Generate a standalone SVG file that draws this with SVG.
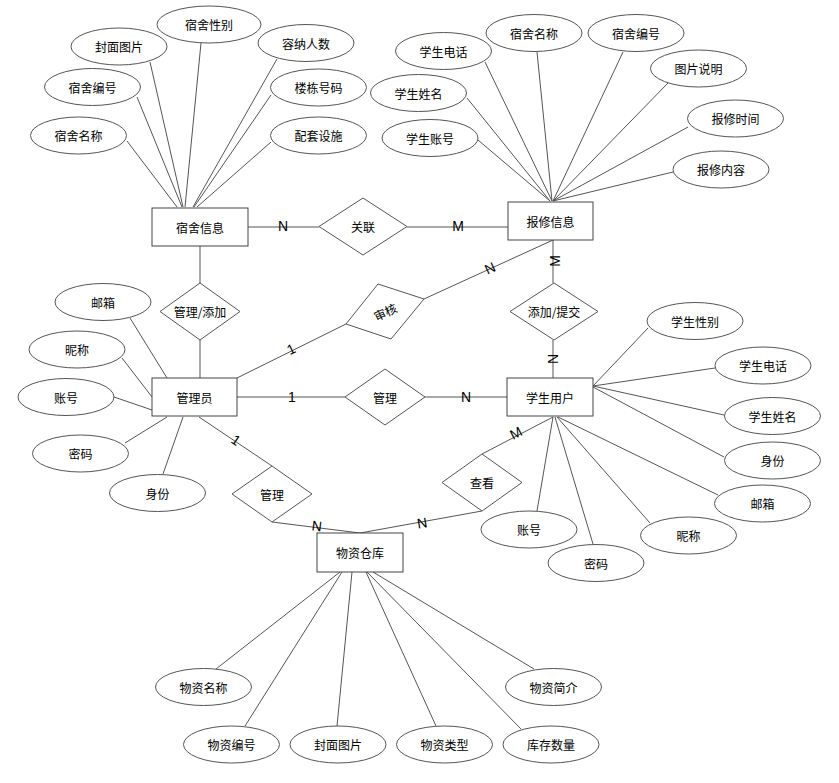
<svg xmlns="http://www.w3.org/2000/svg" width="839" height="783" viewBox="0 0 839 783">
<style>
.ent{fill:#fff;stroke:#444;stroke-width:1}
.rel{fill:#fff;stroke:#555;stroke-width:1}
.att{fill:#fff;stroke:#555;stroke-width:1}
.t{font-family:"Noto Sans CJK SC","Liberation Sans",sans-serif;font-size:12px;fill:#000;text-anchor:middle;dominant-baseline:central}
.c{stroke:#555;stroke-width:1;fill:none}
.lb{font-family:"Liberation Sans",Arial,sans-serif;font-size:14px;fill:#000;text-anchor:middle;dominant-baseline:central}
</style>
<rect width="839" height="783" fill="#fff"/>
<g id="connectors">
<!-- dorm attributes -->
<line class="c" x1="127" y1="141" x2="177" y2="207"/>
<line class="c" x1="137" y1="97" x2="182" y2="207"/>
<line class="c" x1="150" y1="62" x2="183" y2="207"/>
<line class="c" x1="201" y1="43" x2="185" y2="207"/>
<line class="c" x1="277" y1="59" x2="193" y2="207"/>
<line class="c" x1="271" y1="95" x2="194" y2="207"/>
<line class="c" x1="271" y1="142" x2="197" y2="207"/>
<!-- repair attributes -->
<line class="c" x1="485" y1="62" x2="552" y2="201"/>
<line class="c" x1="537" y1="52" x2="552" y2="201"/>
<line class="c" x1="623" y1="52" x2="553" y2="201"/>
<line class="c" x1="668" y1="83" x2="553" y2="201"/>
<line class="c" x1="467" y1="98" x2="550" y2="201"/>
<line class="c" x1="688" y1="127" x2="553" y2="201"/>
<line class="c" x1="478" y1="140" x2="550" y2="201"/>
<line class="c" x1="673" y1="172" x2="553" y2="201"/>
<!-- admin attributes -->
<line class="c" x1="130" y1="318" x2="167" y2="378"/>
<line class="c" x1="122" y1="358" x2="152" y2="397"/>
<line class="c" x1="114" y1="397" x2="152" y2="410"/>
<line class="c" x1="125" y1="443" x2="167" y2="417"/>
<line class="c" x1="163" y1="474" x2="183" y2="417"/>
<!-- student attributes -->
<line class="c" x1="648" y1="328" x2="593" y2="386"/>
<line class="c" x1="715" y1="368" x2="593" y2="386"/>
<line class="c" x1="724" y1="415" x2="593" y2="386"/>
<line class="c" x1="724" y1="457" x2="593" y2="387"/>
<line class="c" x1="718" y1="495" x2="558" y2="417"/>
<line class="c" x1="650" y1="523" x2="557" y2="417"/>
<line class="c" x1="593" y1="544" x2="555" y2="417"/>
<line class="c" x1="537" y1="511" x2="553" y2="417"/>
<!-- store attributes -->
<line class="c" x1="216" y1="669" x2="340" y2="572"/>
<line class="c" x1="245" y1="726" x2="342" y2="572"/>
<line class="c" x1="337" y1="726" x2="352" y2="572"/>
<line class="c" x1="436" y1="726" x2="366" y2="572"/>
<line class="c" x1="521" y1="729" x2="367" y2="572"/>
<line class="c" x1="534" y1="669" x2="373" y2="572"/>
<!-- relationships -->
<line class="c" x1="248" y1="227" x2="319" y2="227"/>
<line class="c" x1="407" y1="227" x2="508" y2="227"/>
<line class="c" x1="200" y1="246" x2="200" y2="283"/>
<line class="c" x1="200" y1="340" x2="200" y2="378"/>
<line class="c" x1="237" y1="378" x2="346" y2="324"/>
<line class="c" x1="424" y1="299" x2="553" y2="240"/>
<line class="c" x1="237" y1="397" x2="345" y2="397"/>
<line class="c" x1="425" y1="397" x2="507" y2="397"/>
<line class="c" x1="553" y1="240" x2="553" y2="283"/>
<line class="c" x1="553" y1="340" x2="553" y2="378"/>
<line class="c" x1="199" y1="417" x2="272" y2="466"/>
<line class="c" x1="272" y1="522" x2="360" y2="533"/>
<line class="c" x1="553" y1="417" x2="482" y2="454"/>
<line class="c" x1="482" y1="511" x2="360" y2="533"/>
<!-- cardinality labels -->
<text class="lb" x="283" y="226">N</text>
<text class="lb" x="458" y="226">M</text>
<text class="lb" transform="translate(291,349) rotate(-26)">1</text>
<text class="lb" transform="translate(490,268) rotate(-25)">N</text>
<text class="lb" x="292" y="397">1</text>
<text class="lb" x="466" y="397">N</text>
<text class="lb" transform="translate(555,261) rotate(-90)">M</text>
<text class="lb" transform="translate(553,359) rotate(-90)">N</text>
<text class="lb" transform="translate(236,440) rotate(34)">1</text>
<text class="lb" transform="translate(317,526) rotate(7)">N</text>
<text class="lb" transform="translate(422,523) rotate(-10)">N</text>
<text class="lb" transform="translate(516,433) rotate(-27)">M</text>
</g>
<g id="dorm"><rect class="ent" x="152" y="208" width="96" height="38"/><text class="t" x="200" y="227">宿舍信息</text></g>
<g id="repair"><rect class="ent" x="508" y="202" width="85" height="38"/><text class="t" x="550.5" y="221">报修信息</text></g>
<g id="admin"><rect class="ent" x="152" y="378" width="85" height="38"/><text class="t" x="194.5" y="397">管理员</text></g>
<g id="student"><rect class="ent" x="507" y="378" width="86" height="38"/><text class="t" x="550" y="397">学生用户</text></g>
<g id="store"><rect class="ent" x="317" y="533" width="86" height="39"/><text class="t" x="360" y="552.5">物资仓库</text></g>
<g id="rel_link"><polygon class="rel" points="319,226.5 363,198 407,226.5 363,255"/><text class="t" x="363" y="226.5">关联</text></g>
<g id="rel_manage_add"><polygon class="rel" points="160,311.5 200,283 240,311.5 200,340"/><text class="t" x="200" y="311.5">管理/添加</text></g>
<g id="rel_audit"><polygon class="rel" points="346,324 378,284 424,299 391,339"/><text class="t" transform="translate(385,311.5) rotate(-25)">审核</text></g>
<g id="rel_add_submit"><polygon class="rel" points="510,311.5 554,283 598,311.5 554,340"/><text class="t" x="554" y="311.5">添加/提交</text></g>
<g id="rel_manage1"><polygon class="rel" points="345,397 385,369 425,397 385,425"/><text class="t" x="385" y="397">管理</text></g>
<g id="rel_manage2"><polygon class="rel" points="232,494 272,466 312,494 272,522"/><text class="t" x="272" y="494">管理</text></g>
<g id="rel_view"><polygon class="rel" points="442,482.5 482,454 522,482.5 482,511"/><text class="t" x="482" y="482.5">查看</text></g>
<g id="a_dorm_gender"><ellipse class="att" cx="209" cy="24.5" rx="52" ry="18.5"/><text class="t" x="209" y="24.5">宿舍性别</text></g>
<g id="a_dorm_cover"><ellipse class="att" cx="119" cy="46.5" rx="48" ry="18.5"/><text class="t" x="119" y="46.5">封面图片</text></g>
<g id="a_dorm_cap"><ellipse class="att" cx="306" cy="43" rx="48" ry="18.5"/><text class="t" x="306" y="43">容纳人数</text></g>
<g id="a_dorm_no"><ellipse class="att" cx="92.5" cy="87" rx="48" ry="18.5"/><text class="t" x="92.5" y="87">宿舍编号</text></g>
<g id="a_dorm_bld"><ellipse class="att" cx="318.5" cy="87.5" rx="48" ry="18.5"/><text class="t" x="318.5" y="87.5">楼栋号码</text></g>
<g id="a_dorm_name"><ellipse class="att" cx="78.5" cy="135.5" rx="48" ry="18.5"/><text class="t" x="78.5" y="135.5">宿舍名称</text></g>
<g id="a_dorm_fac"><ellipse class="att" cx="318.5" cy="135.5" rx="48" ry="18.5"/><text class="t" x="318.5" y="135.5">配套设施</text></g>
<g id="a_rep_phone"><ellipse class="att" cx="443.5" cy="51" rx="48" ry="18.5"/><text class="t" x="443.5" y="51">学生电话</text></g>
<g id="a_rep_dname"><ellipse class="att" cx="534" cy="33" rx="48" ry="18.5"/><text class="t" x="534" y="33">宿舍名称</text></g>
<g id="a_rep_dno"><ellipse class="att" cx="636" cy="33" rx="48" ry="18.5"/><text class="t" x="636" y="33">宿舍编号</text></g>
<g id="a_rep_pic"><ellipse class="att" cx="698.5" cy="68.5" rx="48" ry="18.5"/><text class="t" x="698.5" y="68.5">图片说明</text></g>
<g id="a_rep_sname"><ellipse class="att" cx="418.5" cy="93" rx="48" ry="18.5"/><text class="t" x="418.5" y="93">学生姓名</text></g>
<g id="a_rep_time"><ellipse class="att" cx="735.5" cy="118.5" rx="48" ry="18.5"/><text class="t" x="735.5" y="118.5">报修时间</text></g>
<g id="a_rep_sacc"><ellipse class="att" cx="430" cy="138" rx="48" ry="18.5"/><text class="t" x="430" y="138">学生账号</text></g>
<g id="a_rep_content"><ellipse class="att" cx="721" cy="169.5" rx="48" ry="18.5"/><text class="t" x="721" y="169.5">报修内容</text></g>
<g id="a_adm_mail"><ellipse class="att" cx="103" cy="302" rx="48" ry="18.5"/><text class="t" x="103" y="302">邮箱</text></g>
<g id="a_adm_nick"><ellipse class="att" cx="77" cy="349.5" rx="48" ry="18.5"/><text class="t" x="77" y="349.5">昵称</text></g>
<g id="a_adm_acc"><ellipse class="att" cx="66" cy="397" rx="48" ry="18.5"/><text class="t" x="66" y="397">账号</text></g>
<g id="a_adm_pwd"><ellipse class="att" cx="80.5" cy="453.5" rx="48" ry="18.5"/><text class="t" x="80.5" y="453.5">密码</text></g>
<g id="a_adm_role"><ellipse class="att" cx="157.5" cy="493" rx="48" ry="18.5"/><text class="t" x="157.5" y="493">身份</text></g>
<g id="a_stu_gender"><ellipse class="att" cx="695" cy="321" rx="48" ry="18.5"/><text class="t" x="695" y="321">学生性别</text></g>
<g id="a_stu_phone"><ellipse class="att" cx="763" cy="365.5" rx="48" ry="18.5"/><text class="t" x="763" y="365.5">学生电话</text></g>
<g id="a_stu_name"><ellipse class="att" cx="772.5" cy="416" rx="48" ry="18.5"/><text class="t" x="772.5" y="416">学生姓名</text></g>
<g id="a_stu_role"><ellipse class="att" cx="772.5" cy="460.5" rx="48" ry="18.5"/><text class="t" x="772.5" y="460.5">身份</text></g>
<g id="a_stu_mail"><ellipse class="att" cx="762.5" cy="503.5" rx="48" ry="18.5"/><text class="t" x="762.5" y="503.5">邮箱</text></g>
<g id="a_stu_nick"><ellipse class="att" cx="688.5" cy="535.5" rx="48" ry="18.5"/><text class="t" x="688.5" y="535.5">昵称</text></g>
<g id="a_stu_acc"><ellipse class="att" cx="529" cy="529.5" rx="48" ry="18.5"/><text class="t" x="529" y="529.5">账号</text></g>
<g id="a_stu_pwd"><ellipse class="att" cx="596" cy="563" rx="48" ry="18.5"/><text class="t" x="596" y="563">密码</text></g>
<g id="a_st_name"><ellipse class="att" cx="203.5" cy="687" rx="48" ry="18.5"/><text class="t" x="203.5" y="687">物资名称</text></g>
<g id="a_st_no"><ellipse class="att" cx="231.5" cy="744.5" rx="48" ry="18.5"/><text class="t" x="231.5" y="744.5">物资编号</text></g>
<g id="a_st_cover"><ellipse class="att" cx="338" cy="744.5" rx="48" ry="18.5"/><text class="t" x="338" y="744.5">封面图片</text></g>
<g id="a_st_type"><ellipse class="att" cx="444.5" cy="744.5" rx="48" ry="18.5"/><text class="t" x="444.5" y="744.5">物资类型</text></g>
<g id="a_st_qty"><ellipse class="att" cx="551" cy="744.5" rx="48" ry="18.5"/><text class="t" x="551" y="744.5">库存数量</text></g>
<g id="a_st_intro"><ellipse class="att" cx="553.5" cy="687" rx="48" ry="18.5"/><text class="t" x="553.5" y="687">物资简介</text></g>
</svg>
